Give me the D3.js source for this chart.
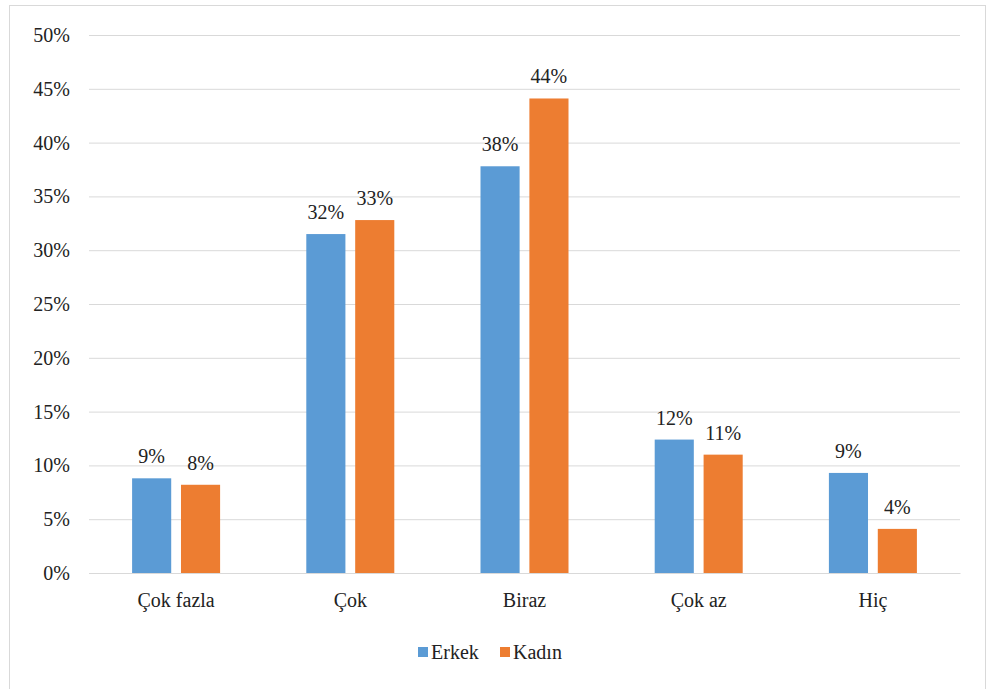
<!DOCTYPE html>
<html>
<head>
<meta charset="utf-8">
<script src="https://cdn.jsdelivr.net/npm/d3@7"></script>
<style>
  html, body { margin: 0; padding: 0; background: #fff; }
  #viz svg text { font-family: "Liberation Serif", "Times New Roman", serif !important; }
</style>
</head>
<body>
<div id="viz"></div>
<script>
// --- data ---
const categories = ["Çok fazla", "Çok", "Biraz", "Çok az", "Hiç"];
const seriesNames = ["Erkek", "Kadın"];
const erkek = [8.8, 31.5, 37.8, 12.4, 9.3];
const kadin = [8.2, 32.8, 44.1, 11.0, 4.1];
const labelsErkek = ["9%", "32%", "38%", "12%", "9%"];
const labelsKadin = ["8%", "33%", "44%", "11%", "4%"];
const yTicks = [0, 5, 10, 15, 20, 25, 30, 35, 40, 45, 50];

const colors = { Erkek: "#5b9bd5", Kadın: "#ed7d31" };
const FONT = "'Liberation Serif', 'Times New Roman', serif";

const width = 987, height = 689;
const margin = { top: 35, right: 27, bottom: 116, left: 89 };

const svg = d3.select("#viz").append("svg")
  .attr("width", width)
  .attr("height", height)
  .style("font-family", FONT)
  .style("display", "block");

// outer frame
svg.append("rect")
  .attr("x", 9.5).attr("y", 5.5)
  .attr("width", 976).attr("height", 700)
  .attr("fill", "none")
  .attr("stroke", "#d9d9d9");

const x = d3.scaleBand()
  .domain(categories)
  .range([margin.left, width - margin.right]);

const x1 = d3.scaleBand()
  .domain(seriesNames)
  .range([0, 88])
  .paddingInner(0.2);

const y = d3.scaleLinear()
  .domain([0, 50])
  .range([height - margin.bottom, margin.top]);

// gridlines + y labels
const yAxis = d3.axisLeft(y)
  .tickValues(yTicks)
  .tickFormat(d => d + "%")
  .tickSize(-(width - margin.left - margin.right))
  .tickPadding(19);

const gy = svg.append("g")
  .attr("transform", `translate(${margin.left},0)`)
  .call(yAxis)
  .attr("font-family", null)
  .attr("font-size", 20);
gy.select(".domain").remove();
gy.selectAll(".tick line").attr("stroke", "#d9d9d9").attr("stroke-width", 1);
gy.selectAll(".tick text").attr("fill", "#222").style("font-family", FONT);

// x axis labels
const xAxis = d3.axisBottom(x).tickSize(0).tickPadding(20);
const gx = svg.append("g")
  .attr("transform", `translate(0,${y(0)})`)
  .call(xAxis)
  .attr("font-family", null)
  .attr("font-size", 20);
gx.select(".domain").attr("stroke", "#d9d9d9");
gx.selectAll(".tick text").attr("fill", "#222").style("font-family", FONT);

// bars
const rows = categories.map((c, i) => ({
  cat: c,
  values: [
    { key: "Erkek", v: erkek[i], label: labelsErkek[i] },
    { key: "Kadın", v: kadin[i], label: labelsKadin[i] }
  ]
}));

const groups = svg.append("g").selectAll("g")
  .data(rows)
  .join("g")
  .attr("transform", d => `translate(${x(d.cat) + (x.bandwidth() - 88) / 2},0)`);

groups.selectAll("rect")
  .data(d => d.values)
  .join("rect")
  .attr("x", d => x1(d.key))
  .attr("width", x1.bandwidth())
  .attr("y", d => y(d.v))
  .attr("height", d => y(0) - y(d.v))
  .attr("fill", d => colors[d.key]);

groups.selectAll("text")
  .data(d => d.values)
  .join("text")
  .attr("x", d => x1(d.key) + x1.bandwidth() / 2)
  .attr("y", d => y(d.v) - 15)
  .attr("text-anchor", "middle")
  .attr("fill", "#222")
  .attr("font-size", 20)
  .style("font-family", FONT)
  .text(d => d.label);

// legend
const legend = svg.append("g")
  .attr("transform", "translate(418,652)");
const legendX = [0, 82];
seriesNames.forEach((s, i) => {
  const g = legend.append("g").attr("transform", `translate(${legendX[i]},0)`);
  g.append("rect")
    .attr("x", 0).attr("y", -5)
    .attr("width", 10).attr("height", 10)
    .attr("fill", colors[s]);
  g.append("text")
    .attr("x", 13).attr("y", 7)
    .attr("fill", "#222")
    .attr("font-size", 20)
    .style("font-family", FONT)
    .text(s);
});
</script>
</body>
</html>
